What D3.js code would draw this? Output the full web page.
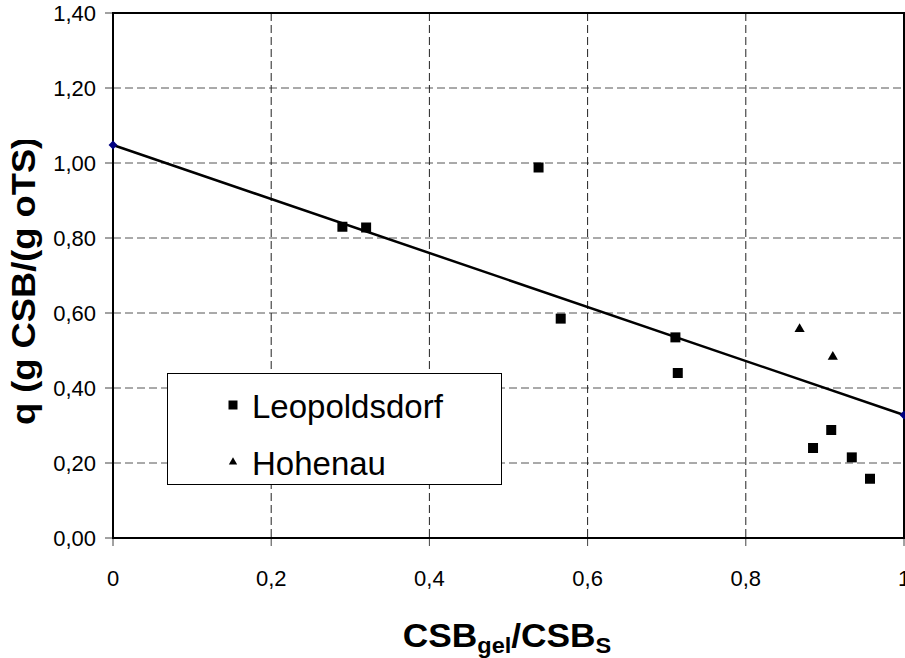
<!DOCTYPE html>
<html>
<head>
<meta charset="utf-8">
<script src="https://cdn.jsdelivr.net/npm/d3@7"></script>
<style>
  html, body { margin: 0; padding: 0; background: #fff; }
  svg { display: block; font-family: "Liberation Sans", Arial, sans-serif; }
</style>
</head>
<body>
<svg id="chart" width="905" height="658"></svg>
<script>
// Measured series: ratio CSB_gel/CSB_S against specific CSB load q
const leopoldsdorfX = [0.290, 0.320, 0.538, 0.566, 0.711, 0.714, 0.885, 0.908, 0.934, 0.957];
const leopoldsdorfY = [0.830, 0.828, 0.988, 0.585, 0.535, 0.440, 0.240, 0.288, 0.215, 0.158];
const hohenauX = [0.868, 0.910];
const hohenauY = [0.557, 0.483];

// Linear regression line (end points)
const trendX = [0, 1];
const trendY = [1.048, 0.328];

// Axis ticks
const xTicks = [0, 0.2, 0.4, 0.6, 0.8, 1];
const yTicks = [0, 0.2, 0.4, 0.6, 0.8, 1.0, 1.2, 1.4];

const legendLabels = ["Leopoldsdorf", "Hohenau"];

const svg = d3.select("#chart");

const x = d3.scaleLinear().domain([0, 1]).range([113, 904]);
const y = d3.scaleLinear().domain([0, 1.4]).range([538, 13]);

const fmtX = v => (v === 0 || v === 1) ? String(v) : d3.format(".1f")(v).replace(".", ",");
const fmtY = v => d3.format(".2f")(v).replace(".", ",");

// Grid lines
const grid = svg.append("g");
grid.selectAll("line.h").data(yTicks.filter(v => v > 0 && v < 1.4)).join("line")
  .attr("x1", x(0)).attr("x2", x(1))
  .attr("y1", d => y(d)).attr("y2", d => y(d))
  .attr("stroke", "#555").attr("stroke-width", 1)
  .attr("stroke-dasharray", "8,4");
grid.selectAll("line.v").data(xTicks.filter(v => v > 0 && v < 1)).join("line")
  .attr("x1", d => x(d)).attr("x2", d => x(d))
  .attr("y1", y(1.4)).attr("y2", y(0))
  .attr("stroke", "#222").attr("stroke-width", 1)
  .attr("stroke-dasharray", "8,4");

// Tick marks outside the frame
svg.append("g").selectAll("line").data(yTicks).join("line")
  .attr("x1", x(0) - 8).attr("x2", x(0))
  .attr("y1", d => y(d)).attr("y2", d => y(d))
  .attr("stroke", "#444").attr("stroke-width", 1);
svg.append("g").selectAll("line").data(xTicks).join("line")
  .attr("x1", d => x(d)).attr("x2", d => x(d))
  .attr("y1", y(0)).attr("y2", y(0) + 8)
  .attr("stroke", "#444").attr("stroke-width", 1);

// Tick labels
svg.append("g").selectAll("text").data(yTicks).join("text")
  .attr("x", 96).attr("y", d => y(d))
  .attr("dy", "0.36em")
  .attr("text-anchor", "end")
  .attr("font-size", 22)
  .text(fmtY);
svg.append("g").selectAll("text").data(xTicks).join("text")
  .attr("x", d => x(d)).attr("y", 586)
  .attr("text-anchor", "middle")
  .attr("font-size", 22)
  .text(fmtX);

// Plot frame
svg.append("rect")
  .attr("x", x(0)).attr("y", y(1.4))
  .attr("width", x(1) - x(0)).attr("height", y(0) - y(1.4))
  .attr("fill", "none").attr("stroke", "#000").attr("stroke-width", 2);

// Regression line
const line = d3.line().x(d => x(d[0])).y(d => y(d[1]));
const trend = d3.zip(trendX, trendY);
svg.append("path").datum(trend)
  .attr("d", line)
  .attr("fill", "none").attr("stroke", "#000").attr("stroke-width", 2.5);
svg.append("g").selectAll("path").data(trend).join("path")
  .attr("d", d3.symbol(d3.symbolDiamond2, 50)())
  .attr("transform", d => `translate(${x(d[0])},${y(d[1])})`)
  .attr("fill", "#000080");

// Data points
const sq = d3.symbol(d3.symbolSquare, 100)();
const tri = d3.symbol(d3.symbolTriangle, 45)();
svg.append("g").selectAll("path").data(d3.zip(leopoldsdorfX, leopoldsdorfY)).join("path")
  .attr("d", sq)
  .attr("transform", d => `translate(${x(d[0])},${y(d[1])})`)
  .attr("fill", "#000");
svg.append("g").selectAll("path").data(d3.zip(hohenauX, hohenauY)).join("path")
  .attr("d", tri)
  .attr("transform", d => `translate(${x(d[0])},${y(d[1])})`)
  .attr("fill", "#000");

// Legend
const legend = svg.append("g");
legend.append("rect")
  .attr("x", 167.5).attr("y", 373.5).attr("width", 334).attr("height", 111)
  .attr("fill", "#fff").attr("stroke", "#000").attr("stroke-width", 1);
const legendSymbols = [d3.symbol(d3.symbolSquare, 81)(), d3.symbol(d3.symbolTriangle, 30)()];
legendLabels.forEach((label, i) => {
  const by = 418 + i * 57;
  legend.append("path").attr("d", legendSymbols[i])
    .attr("transform", `translate(233,${by - 13})`).attr("fill", "#000");
  legend.append("text").attr("x", 252).attr("y", by)
    .attr("font-size", 33).text(label);
});

// Axis titles
const xTitle = svg.append("text")
  .attr("transform", "translate(507,647) scale(1.07,1)")
  .attr("text-anchor", "middle")
  .attr("font-size", 33).attr("font-weight", "bold");
xTitle.append("tspan").text("CSB");
xTitle.append("tspan").attr("font-size", 22).attr("dy", 6).text("gel");
xTitle.append("tspan").attr("dy", -6).text("/CSB");
xTitle.append("tspan").attr("font-size", 22).attr("dy", 6).text("S");

svg.append("clipPath").attr("id", "ytitle-clip")
  .append("rect").attr("x", 0).attr("y", 140).attr("width", 100).attr("height", 400);
svg.append("g").attr("clip-path", "url(#ytitle-clip)")
  .append("text")
  .attr("transform", "translate(35,425) rotate(-90) scale(1.1,1)")
  .attr("text-anchor", "start")
  .attr("font-size", 33).attr("font-weight", "bold")
  .text("q (g CSB/(g oTS))");
</script>
</body>
</html>
